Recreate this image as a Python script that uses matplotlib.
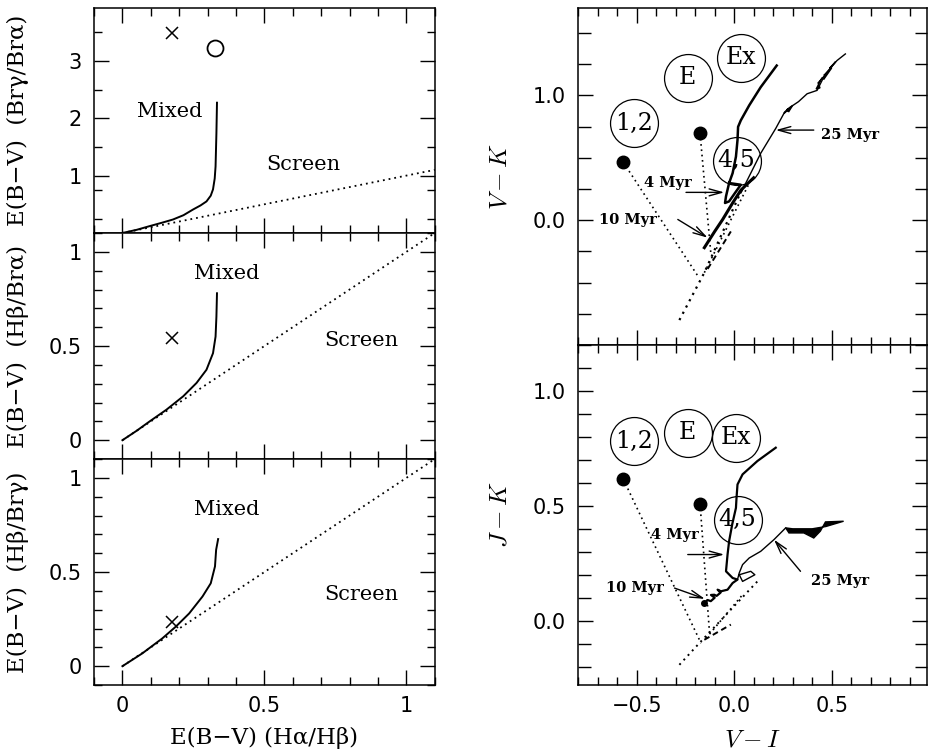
import matplotlib
matplotlib.use('Agg')
import matplotlib.pyplot as plt
from matplotlib.ticker import FixedLocator, MultipleLocator, FuncFormatter

plt.rcParams['mathtext.fontset'] = 'cm'
plt.rcParams['font.family'] = ['DejaVu Sans']

# ---------------- Left panels data ----------------
screen_x = [0.0, 1.1]
screen_y = [0.0, 1.1]

mix1_x = [0.0, 0.05, 0.096, 0.14, 0.178, 0.215, 0.249, 0.275, 0.296, 0.311, 0.319, 0.325, 0.328, 0.331, 0.333]
mix1_y = [0.0, 0.055, 0.12, 0.18, 0.235, 0.31, 0.41, 0.48, 0.55, 0.65, 0.76, 0.95, 1.16, 1.74, 2.27]

mix2_x = [0.0, 0.05, 0.096, 0.155, 0.214, 0.261, 0.296, 0.319, 0.328, 0.331, 0.333]
mix2_y = [0.0, 0.05, 0.10, 0.162, 0.233, 0.304, 0.374, 0.462, 0.55, 0.656, 0.78]

mix3_x = [0.0, 0.07, 0.14, 0.188, 0.235, 0.282, 0.311, 0.326, 0.33, 0.337]
mix3_y = [0.0, 0.068, 0.147, 0.21, 0.28, 0.37, 0.44, 0.53, 0.618, 0.675]

cross_x = 0.176
cross1_y = 3.48
circ1_x, circ1_y = 0.325, 3.22
cross2_y = 0.54
cross3_y = 0.236

# ---------------- Right panels data ----------------
dot_pts_v = [-0.569, -0.175]
dot_pts_vk = [0.465, 0.695]
dot_pts_jk = [0.617, 0.509]

lab_names = ['1,2', 'E', 'Ex', '4,5']
lab_v_top = [-0.515, -0.238, 0.034, 0.012]
lab_vk = [0.775, 1.141, 1.30, 0.477]
lab_v_bot = [-0.515, -0.238, 0.009, 0.017]
lab_jk = [0.782, 0.818, 0.796, 0.44]

# V-K panel tracks
vkA_v = [0.218, 0.136, 0.077, 0.034, 0.020, 0.017, 0.009, -0.008, -0.026, -0.042, -0.047, -0.026, 0.005, 0.034, -0.026]
vkA_k = [1.239, 1.066, 0.920, 0.800, 0.748, 0.642, 0.509, 0.377, 0.298, 0.191, 0.138, 0.151, 0.22, 0.284, 0.298]
vkA2_v = [0.10, 0.06, 0.034, -0.008, -0.059, -0.10, -0.153]
vkA2_k = [0.34, 0.28, 0.24, 0.138, 0.006, -0.09, -0.22]
vkB_v = [0.570, 0.527, 0.50, 0.459, 0.425, 0.374, 0.33, 0.289, 0.259, 0.213, 0.136, 0.085, 0.034]
vkB_k = [1.332, 1.279, 1.23, 1.146, 1.04, 1.013, 0.95, 0.907, 0.867, 0.735, 0.536, 0.377, 0.218]
vkblob_v = [0.52, 0.49, 0.50, 0.46, 0.45, 0.42, 0.44, 0.43, 0.47, 0.46, 0.50, 0.49, 0.52]
vkblob_k = [1.27, 1.21, 1.22, 1.13, 1.14, 1.05, 1.06, 1.10, 1.17, 1.16, 1.23, 1.22, 1.27]
vkblob2_v = [0.30, 0.27, 0.275, 0.255, 0.27, 0.28, 0.30]
vkblob2_k = [0.92, 0.885, 0.89, 0.855, 0.875, 0.87, 0.92]
vkd1_v = [-0.281, -0.153, 0.043]
vkd1_k = [-0.80, -0.42, 0.258]
vkd2_v = [-0.153, 0.085]
vkd2_k = [-0.42, 0.32]
vkdash_v = [-0.136, -0.017]
vkdash_k = [-0.39, -0.09]
vkc1_v = [-0.569, -0.187]
vkc1_k = [0.465, -0.445]
vkc2_v = [-0.175, -0.12]
vkc2_k = [0.695, -0.26]

# J-K panel tracks
jkA_v = [0.213, 0.119, 0.043, 0.017, 0.012, 0.009, -0.01, -0.026, -0.034, -0.042, -0.008, 0.017, -0.008, -0.034, -0.068,
         -0.085, -0.07, -0.09, -0.102, -0.119, -0.10, -0.12, -0.136, -0.153]
jkA_j = [0.753, 0.695, 0.637, 0.593, 0.535, 0.491, 0.42, 0.346, 0.288, 0.215, 0.186, 0.179, 0.164, 0.135, 0.128,
         0.135, 0.122, 0.108, 0.113, 0.112, 0.100, 0.085, 0.09, 0.077]
jkB_v = [0.264, 0.204, 0.136, 0.077, 0.043, 0.026, 0.017]
jkB_j = [0.404, 0.353, 0.302, 0.273, 0.244, 0.208, 0.179]
jkbox_v = [0.026, 0.085, 0.106, 0.043, 0.026]
jkbox_j = [0.200, 0.215, 0.200, 0.171, 0.200]
jkblob_v = [0.264, 0.281, 0.357, 0.408, 0.442, 0.468, 0.561, 0.47, 0.40, 0.30, 0.264]
jkblob_j = [0.404, 0.382, 0.382, 0.360, 0.390, 0.430, 0.433, 0.410, 0.400, 0.400, 0.404]
jkd1_v = [-0.281, -0.179, 0.119]
jkd1_j = [-0.192, -0.098, 0.171]
jkd2_v = [-0.144, 0.043]
jkd2_j = [-0.076, 0.113]
jkdash_v = [-0.153, -0.017]
jkdash_j = [-0.083, -0.017]
jkc1_v = [-0.569, -0.17]
jkc1_j = [0.617, -0.098]
jkc2_v = [-0.175, -0.125]
jkc2_j = [0.509, -0.07]

# Age annotations (label, text pos, arrow start, arrow tip)
vk_ann = [('4 Myr', (-0.34, 0.297), (-0.247, 0.223), (-0.051, 0.223)),
          ('10 Myr', (-0.544, 0.0), (-0.289, 0.006), (-0.136, -0.14)),
          ('25 Myr', (0.595, 0.682), (0.408, 0.722), (0.213, 0.722))]
jk_ann = [('4 Myr', (-0.306, 0.371), (-0.238, 0.288), (-0.051, 0.288)),
          ('10 Myr', (-0.51, 0.142), (-0.306, 0.142), (-0.15, 0.095)),
          ('25 Myr', (0.544, 0.171), (0.34, 0.215), (0.204, 0.353))]

# ---------------- Figure ----------------
fig = plt.figure(figsize=(9.31, 7.55), dpi=100)
axL1 = fig.add_axes([0.101, 0.6914, 0.366, 0.2980])
axL2 = fig.add_axes([0.101, 0.3920, 0.366, 0.2994])
axL3 = fig.add_axes([0.101, 0.0927, 0.366, 0.2993])
axR1 = fig.add_axes([0.621, 0.5430, 0.375, 0.4464])
axR2 = fig.add_axes([0.621, 0.0927, 0.375, 0.4503])

serif = 'DejaVu Serif'


def fmt_plain(v, pos):
    s = '%g' % v
    return s.replace('-', '\u2212')


def fmt_one(v, pos):
    return ('%.1f' % v).replace('-', '\u2212')


def style(ax):
    for sp in ax.spines.values():
        sp.set_linewidth(1.1)
    ax.tick_params(which='both', direction='in', top=True, right=True, width=1.0)
    ax.tick_params(which='major', length=11, labelsize=15)
    ax.tick_params(which='minor', length=5.5)
    ax.tick_params(axis='y', pad=9)
    ax.tick_params(axis='x', pad=8)


lw_curve = 1.4
for ax in (axL1, axL2, axL3):
    ax.set_xlim(-0.1, 1.1)
    ax.xaxis.set_major_locator(FixedLocator([0, 0.5, 1]))
    ax.xaxis.set_minor_locator(MultipleLocator(0.1))
    ax.xaxis.set_major_formatter(FuncFormatter(fmt_plain))
    ax.yaxis.set_major_formatter(FuncFormatter(fmt_plain))
    ax.plot(screen_x, screen_y, color='black', lw=1.3, linestyle=(0, (1, 2.2)))
    style(ax)

axL1.set_ylim(0, 3.92)
axL1.yaxis.set_major_locator(FixedLocator([1, 2, 3]))
axL1.yaxis.set_minor_locator(FixedLocator([0.25, 0.75, 1.5, 2.5, 3.5]))
for ax in (axL2, axL3):
    ax.set_ylim(-0.1, 1.1)
    ax.yaxis.set_major_locator(FixedLocator([0, 0.5, 1]))
    ax.yaxis.set_minor_locator(MultipleLocator(0.1))

axL1.tick_params(labelbottom=False)
axL2.tick_params(labelbottom=False)

axL1.plot(mix1_x, mix1_y, color='black', lw=lw_curve)
axL2.plot(mix2_x, mix2_y, color='black', lw=lw_curve)
axL3.plot(mix3_x, mix3_y, color='black', lw=lw_curve)

axL1.plot([cross_x], [cross1_y], 'x', color='black', ms=8.5, mew=1.1)
axL1.plot([circ1_x], [circ1_y], 'o', mfc='none', mec='black', ms=11.5, mew=1.3)
axL2.plot([cross_x], [cross2_y], 'x', color='black', ms=8.5, mew=1.1)
axL3.plot([cross_x], [cross3_y], 'x', color='black', ms=8.5, mew=1.1)

tf = dict(family=serif, size=15, ha='center', va='center')
axL1.text(0.167, 2.12, 'Mixed', **tf)
axL1.text(0.636, 1.19, 'Screen', **tf)
axL2.text(0.366, 0.886, 'Mixed', **tf)
axL2.text(0.84, 0.53, 'Screen', **tf)
axL3.text(0.366, 0.83, 'Mixed', **tf)
axL3.text(0.84, 0.38, 'Screen', **tf)

ylf = dict(family=serif, size=16.5)
axL1.set_ylabel('E(B\u2212V)  (Br\u03b3/Br\u03b1)', **ylf)
axL2.set_ylabel('E(B\u2212V)  (H\u03b2/Br\u03b1)', **ylf)
axL3.set_ylabel('E(B\u2212V)  (H\u03b2/Br\u03b3)', **ylf)
for ax in (axL1, axL2, axL3):
    ax.yaxis.set_label_coords(-0.19, 0.5)
axL3.set_xlabel('E(B\u2212V) (H\u03b1/H\u03b2)', **ylf)
axL3.xaxis.set_label_coords(0.5, -0.185)

# ---------------- Right panels ----------------
for ax in (axR1, axR2):
    ax.set_xlim(-0.8, 0.99)
    ax.xaxis.set_major_locator(FixedLocator([-0.5, 0.0, 0.5]))
    ax.xaxis.set_minor_locator(MultipleLocator(0.1))
    ax.xaxis.set_major_formatter(FuncFormatter(fmt_one))
    ax.yaxis.set_major_formatter(FuncFormatter(fmt_one))
    style(ax)

axR1.set_ylim(-1.0, 1.7)
axR1.yaxis.set_major_locator(FixedLocator([0.0, 1.0]))
axR1.yaxis.set_minor_locator(FixedLocator([-0.75, -0.5, -0.25, 0.25, 0.5, 0.75, 1.25, 1.5]))
axR2.set_ylim(-0.28, 1.2)
axR2.yaxis.set_major_locator(FixedLocator([0.0, 0.5, 1.0]))
axR2.yaxis.set_minor_locator(MultipleLocator(0.1))
for ax in (axR1, axR2):
    ax.tick_params(axis='y', which='minor', length=9)
axR1.tick_params(labelbottom=False)

dotted = (0, (1, 2.2))
# V-K panel
axR1.plot(vkc1_v, vkc1_k, color='black', lw=1.2, linestyle=dotted)
axR1.plot(vkc2_v, vkc2_k, color='black', lw=1.2, linestyle=dotted)
axR1.plot(vkd1_v, vkd1_k, color='black', lw=1.6, linestyle=dotted)
axR1.plot(vkd2_v, vkd2_k, color='black', lw=1.2, linestyle=dotted)
axR1.plot(vkdash_v, vkdash_k, color='black', lw=1.4, linestyle=(0, (3, 2)))
axR1.plot(vkA_v, vkA_k, color='black', lw=1.8)
axR1.plot(vkA2_v, vkA2_k, color='black', lw=2.2)
axR1.plot(vkB_v, vkB_k, color='black', lw=1.0)
axR1.fill(vkblob_v, vkblob_k, color='black', lw=1.0)
axR1.fill(vkblob2_v, vkblob2_k, color='black', lw=1.0)
axR1.plot(dot_pts_v, dot_pts_vk, 'o', color='black', ms=9)
for name, v, k in zip(lab_names, lab_v_top, lab_vk):
    axR1.plot([v], [k], 'o', mfc='none', mec='black', ms=34.5, mew=0.9)
    axR1.text(v, k, name, family=serif, size=17, ha='center', va='center')

# J-K panel
axR2.plot(jkc1_v, jkc1_j, color='black', lw=1.2, linestyle=dotted)
axR2.plot(jkc2_v, jkc2_j, color='black', lw=1.2, linestyle=dotted)
axR2.plot(jkd1_v, jkd1_j, color='black', lw=1.4, linestyle=dotted)
axR2.plot(jkd2_v, jkd2_j, color='black', lw=1.2, linestyle=dotted)
axR2.plot(jkdash_v, jkdash_j, color='black', lw=1.4, linestyle=(0, (3, 2)))
axR2.plot(jkA_v, jkA_j, color='black', lw=1.6)
axR2.plot(jkB_v, jkB_j, color='black', lw=1.0)
axR2.plot(jkbox_v, jkbox_j, color='black', lw=1.0)
axR2.fill(jkblob_v, jkblob_j, color='black', lw=1.0)
axR2.plot([jkA_v[-1]], [jkA_j[-1]], 'o', color='black', ms=4)
axR2.plot(dot_pts_v, dot_pts_jk, 'o', color='black', ms=9)
for name, v, j in zip(lab_names, lab_v_bot, lab_jk):
    axR2.plot([v], [j], 'o', mfc='none', mec='black', ms=34.5, mew=0.9)
    axR2.text(v, j, name, family=serif, size=17, ha='center', va='center')

arrowprops = dict(arrowstyle='->,head_length=0.9,head_width=0.25', color='black', lw=1.0,
                  shrinkA=0, shrinkB=0)
for ax, anns in ((axR1, vk_ann), (axR2, jk_ann)):
    for lab, tpos, start, tip in anns:
        ax.text(tpos[0], tpos[1], lab, family=serif, size=10.5, weight='bold',
                ha='center', va='center')
        ax.annotate('', xy=tip, xytext=start, arrowprops=arrowprops)

axR1.set_ylabel('$V-K$', fontsize=18)
axR2.set_ylabel('$J-K$', fontsize=18)
axR1.yaxis.set_label_coords(-0.19, 0.5)
axR2.yaxis.set_label_coords(-0.19, 0.5)
axR2.set_xlabel('$V-I$', fontsize=18)
axR2.xaxis.set_label_coords(0.5, -0.125)

fig.savefig('out.png', dpi=100)
